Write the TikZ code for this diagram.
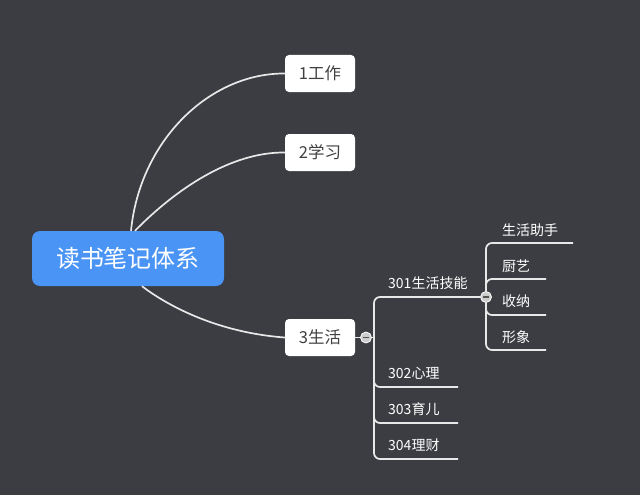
\documentclass[tikz,border=0pt]{standalone}
\usepackage{fontspec}
\setmainfont{Noto Sans CJK SC}
\usetikzlibrary{positioning, calc, arrows.meta}

\definecolor{bgdark}{RGB}{59,61,66}
\definecolor{rootblue}{RGB}{74,148,245}
\definecolor{linewhite}{RGB}{232,232,232}
\definecolor{textgray}{RGB}{64,64,64}
\definecolor{foldgray}{RGB}{205,205,205}
\definecolor{foldmark}{RGB}{85,85,85}

\begin{document}
\begin{tikzpicture}[
    x=1pt, y=-1pt,
    central/.style={fill=rootblue, rounded corners=8pt, minimum width=192pt, minimum height=55pt,
        inner sep=0pt, text=white, font=\fontsize{24}{24}\selectfont},
    topic/.style={fill=white, rounded corners=4pt, minimum width=70pt, minimum height=37pt,
        inner sep=0pt, text=textgray, font=\fontsize{16.5}{16.5}\selectfont},
    leaf/.style={anchor=west, inner sep=0pt, text=white, font=\fontsize{14}{14}\selectfont},
    fold/.style={circle, fill=foldgray, draw=white, line width=0.8pt, minimum size=11pt, inner sep=0pt,
        path picture={\draw[foldmark, line width=1.4pt]
            ([xshift=-2.8pt]path picture bounding box.center) -- ([xshift=2.8pt]path picture bounding box.center);}},
    link/.style={draw=linewhite, line width=1.7pt},
]
    \useasboundingbox[fill=bgdark] (0,0) rectangle (640,495);

    \node[central] (root) at (128,258.5) {读书笔记体系};
    \node[topic] (work)  at (320,73.5)  {1工作};
    \node[topic] (study) at (320,152.5) {2学习};
    \node[topic] (life)  at (320,337.5) {3生活};

    \draw[link] ([xshift=3pt]root.north) .. controls (140,140) and (210,73) .. (work.west);
    \draw[link] ([xshift=7pt]root.north) .. controls (175,190) and (230,152) .. (study.west);
    \draw[link] ([xshift=14pt]root.south) .. controls (160,300) and (210,332) .. (life.west);

    % 3生活 branches
    \node[fold] (lifefold)  at (366,337.5) {};
    \node[fold] (skillfold) at (486,297)   {};
    \coordinate (lifebar) at (374,337.5);
    \coordinate (u302) at (458,387);
    \coordinate (u303) at (458,423);
    \coordinate (u304) at (458,459);

    \draw[link] (life.east) -- (lifefold.west);
    \draw[link] (lifefold.east) -- (lifebar);
    \draw[link, rounded corners=6pt] (skillfold.west) -| (374,459) -- (u304);
    \draw[link, rounded corners=6pt] (lifebar) |- (u302);
    \draw[link, rounded corners=6pt] (lifebar) |- (u303);

    \node[leaf] (skill)   at (388,283) {301生活技能};
    \node[leaf] (mind)    at (388,373) {302心理};
    \node[leaf] (child)   at (388,409) {303育儿};
    \node[leaf] (finance) at (388,445) {304理财};

    % 301 sub-branches
    \coordinate (u3011) at (573,243);
    \coordinate (u3012) at (546,279);
    \coordinate (u3013) at (546,315);
    \coordinate (u3014) at (546,350);

    \draw[link, rounded corners=6pt] (u3011) -| (skillfold.north);
    \draw[link, rounded corners=6pt] (skillfold.north) |- (u3012);
    \draw[link, rounded corners=6pt] (skillfold.south) |- (u3013);
    \draw[link, rounded corners=6pt] (skillfold.south) |- (u3014);

    \node[leaf] (helper) at (502,230) {生活助手};
    \node[leaf] (cook)   at (502,266) {厨艺};
    \node[leaf] (store)  at (502,301) {收纳};
    \node[leaf] (look)   at (502,337) {形象};

\end{tikzpicture}
\end{document}
